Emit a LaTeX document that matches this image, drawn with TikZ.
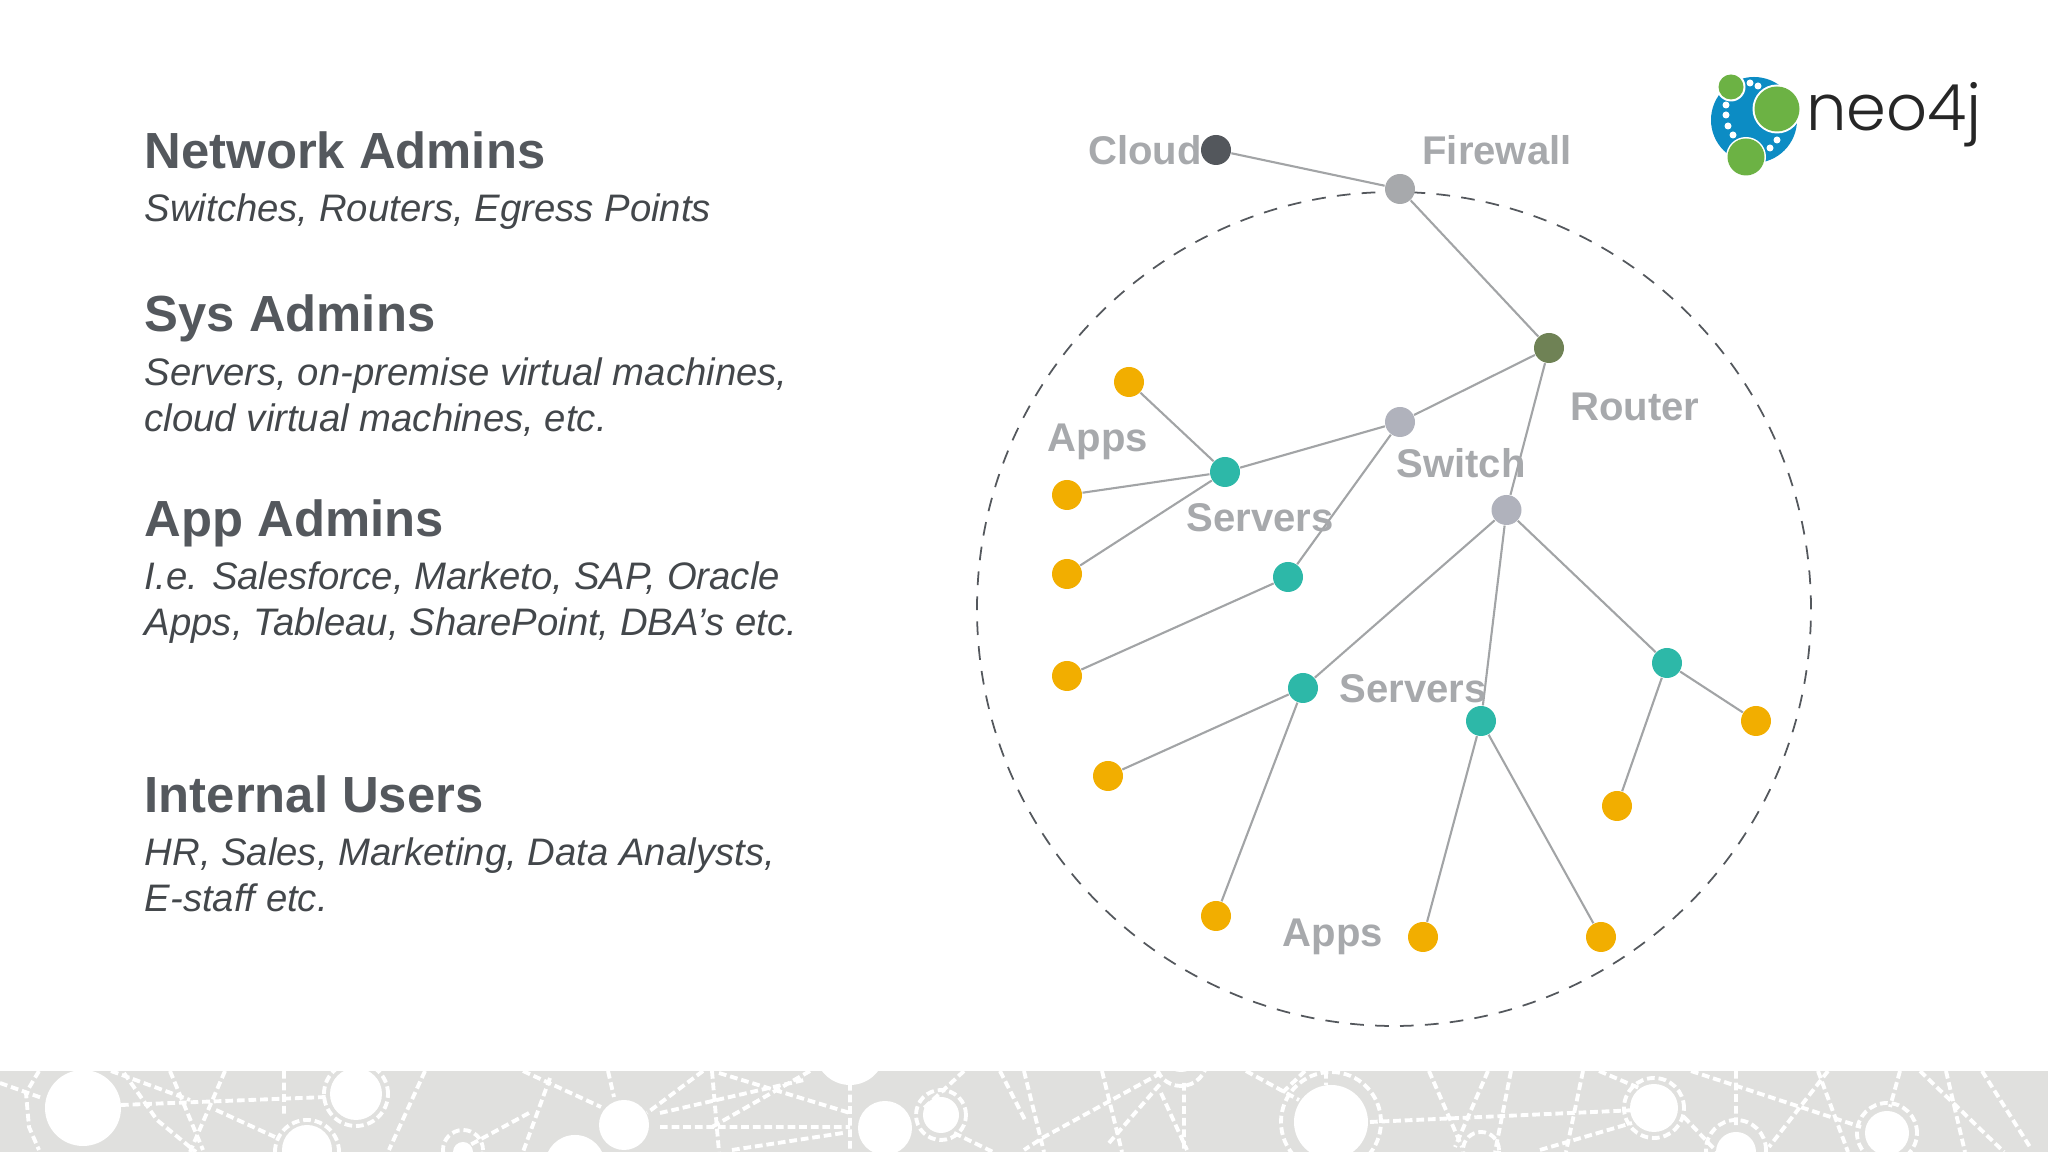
\documentclass[tikz,border=0pt]{standalone}
\usepackage{fontspec}
\setmainfont{Liberation Sans}
\newfontfamily\logofont[UprightFont=* Light]{Poppins}
\usepackage{xcolor}
\definecolor{headcol}{HTML}{54585D}
\definecolor{subcol}{HTML}{43474B}
\definecolor{labelcol}{HTML}{A7A9AC}
\definecolor{edgecol}{HTML}{A2A4A6}
\definecolor{appcol}{HTML}{F2AE00}
\definecolor{servercol}{HTML}{2DB8A8}
\definecolor{routercol}{HTML}{6F8255}
\definecolor{switchcol}{HTML}{B0B2BC}
\definecolor{firewallcol}{HTML}{A7A9AC}
\definecolor{cloudcol}{HTML}{53575C}
\definecolor{bandcol}{HTML}{E0E0DE}
\definecolor{logoblue}{HTML}{0C8CC4}
\definecolor{logogreen}{HTML}{6CB244}

\begin{document}
\begin{tikzpicture}[
    headnode/.style={anchor=west, inner sep=0pt, font=\bfseries\fontsize{14.45}{17}\selectfont, text=headcol},
    subnode/.style={anchor=west, inner sep=0pt, align=left, font=\itshape\fontsize{10.9}{13.1}\selectfont, text=subcol},
    dotnode/.style={circle, inner sep=0pt, minimum size=3mm},
    appnode/.style={dotnode, fill=appcol},
    servernode/.style={dotnode, fill=servercol},
    switchnode/.style={dotnode, fill=switchcol},
    labelnode/.style={inner sep=0pt, font=\bfseries\fontsize{11.4}{13}\selectfont, text=labelcol},
    edge/.style={draw=edgecol, line width=0.6pt},
    bandline/.style={draw=white, line width=1.1pt, dash pattern=on 2.2pt off 1.1pt},
]
\useasboundingbox (0,0) rectangle (20.48,11.52);

% === Bottom band ===
\begin{scope}
\clip (0,0) rectangle (20.48,0.81);
\fill[bandcol] (0,0) rectangle (20.48,0.81);
\draw[bandline] (0,0.69) -- (0.42,0.54)
    (0.39,0.81) -- (0.26,0.59) -- (0.29,0.25) -- (0.39,0.02)
    (1.21,0.47) -- (3.27,0.55)
    (1.11,0.81) -- (1.9,0.52)
    (1.24,0.79) -- (1.57,0.32) -- (1.96,0)
    (1.7,0.81) -- (2.03,0.02)
    (2.25,0.81) -- (1.9,0)
    (2.16,0.42) -- (2.75,0.15)
    (2.84,0.81) -- (2.84,0.35)
    (4.25,0.81) -- (3.89,0.02)
    (5.23,0.81) -- (6.01,0.45)
    (5.5,0.74) -- (5.23,0)
    (5.29,0.39) -- (4.7,0.07)
    (6.08,0.81) -- (6.14,0.55)
    (7.03,0.81) -- (6.47,0.39)
    (6.6,0.39) -- (8.04,0.72)
    (6.6,0.25) -- (8.5,0.25)
    (7.12,0.81) -- (7.19,0)
    (7.19,0.79) -- (8.5,0.39)
    (7.32,0.02) -- (8.43,0.19)
    (8.1,0.81) -- (7.12,0.25)
    (8.5,0.69) -- (8.5,0)
    (9.64,0.81) -- (9.22,0.42)
    (10,0.81) -- (10.25,0.32)
    (9.54,0.19) -- (9.93,0);
\draw[bandline] (10.24,0.81) -- (10.44,0)
    (11.02,0.81) -- (11.22,0)
    (11.61,0.79) -- (10.44,0.15) -- (10.24,0.02)
    (11.61,0.59) -- (11.87,0.02)
    (11.84,0.69) -- (11.84,0)
    (11.09,0.09) -- (11.61,0.69)
    (12.46,0.81) -- (12.99,0.52)
    (13.05,0.81) -- (12.82,0.59)
    (13.26,0.81) -- (13.26,0.67)
    (13.7,0.3) -- (16.38,0.42)
    (14.29,0.81) -- (14.62,0.05)
    (14.88,0.81) -- (14.55,0.05)
    (15.11,0.81) -- (14.95,0)
    (15.83,0.81) -- (15.66,0)
    (15.4,0.02) -- (16.32,0.29)
    (15.99,0.81) -- (16.51,0.59)
    (16.91,0.81) -- (18.61,0.25)
    (17.36,0.81) -- (17.36,0.25)
    (18.28,0.81) -- (17.69,0.05)
    (18.18,0.81) -- (18.48,0)
    (19,0.81) -- (18.9,0.45)
    (19.2,0.81) -- (20.04,0)
    (19.46,0.81) -- (19.65,0)
    (19.82,0.81) -- (20.3,0.05)
    (16.84,0.35) -- (17.17,0);
% rings
\draw[bandline] (3.56,0.58) circle (0.32);
\draw[bandline] (3.07,0) circle (0.32);
\draw[bandline] (9.41,0.37) circle (0.25);
\draw[bandline] (4.63,0.02) circle (0.2);
\draw[bandline] (11.81,0.92) circle (0.26);
\draw[bandline] (13.31,0.3) circle (0.5);
\draw[bandline] (14.81,0.02) circle (0.18);
\draw[bandline] (16.54,0.44) circle (0.3);
\draw[bandline] (17.36,0.02) circle (0.3);
\draw[bandline] (18.87,0.19) circle (0.3);
% spots
\fill[white] (0.83,0.44) circle (0.38);
\fill[white] (3.56,0.58) circle (0.26);
\fill[white] (3.07,0.02) circle (0.25);
\fill[white] (4.63,0) circle (0.1);
\fill[white] (6.24,0.27) circle (0.25);
\fill[white] (5.75,-0.13) circle (0.3);
\fill[white] (8.5,1.02) circle (0.35);
\fill[white] (8.85,0.24) circle (0.27);
\fill[white] (9.41,0.37) circle (0.18);
\fill[white] (11.81,1.0) circle (0.2);
\fill[white] (13.31,0.3) circle (0.37);
\fill[white] (16.54,0.44) circle (0.24);
\fill[white] (17.36,0) circle (0.2);
\fill[white] (18.87,0.19) circle (0.22);
\end{scope}

% === Left column ===
\node[headnode] (nethead) at (1.44, 10.02) {Network Admins};
\node[subnode] (netsub) at (1.44, 9.40) {Switches, Routers, Egress Points};
\node[headnode] (syshead) at (1.44, 8.335) {Sys Admins};
\node[subnode] (syssub) at (1.44, 7.55) {Servers, on-premise virtual machines,\\cloud virtual machines, etc.};
\node[headnode] (apphead) at (1.44, 6.285) {App Admins};
\node[subnode] (appsub) at (1.44, 5.49) {I.e. Salesforce, Marketo, SAP, Oracle\\Apps, Tableau, SharePoint, DBA’s etc.};
\node[headnode] (userhead) at (1.44, 3.58) {Internal Users};
\node[subnode] (usersub) at (1.44, 2.775) {HR, Sales, Marketing, Data Analysts,\\E-staff etc.};

% === Dashed boundary ===
\node[circle, draw=headcol, line width=0.5pt, dash pattern=on 3.9pt off 3.2pt, minimum size=8.34cm, inner sep=0pt] (boundary) at (13.94, 5.43) {};

% === Network nodes ===
\node[dotnode, fill=cloudcol] (cloud) at (12.16, 10.02) {};
\node[dotnode, fill=firewallcol] (firewall) at (14.00, 9.63) {};
\node[dotnode, fill=routercol] (router) at (15.49, 8.04) {};
\node[switchnode] (switchA) at (14.00, 7.30) {};
\node[switchnode] (switchB) at (15.065, 6.42) {};

\node[servernode] (serverA) at (12.25, 6.80) {};
\node[servernode] (serverB) at (12.88, 5.75) {};
\node[servernode] (serverC) at (13.03, 4.64) {};
\node[servernode] (serverD) at (14.81, 4.31) {};
\node[servernode] (serverE) at (16.67, 4.89) {};

\node[appnode] (appA) at (11.29, 7.70) {};
\node[appnode] (appB) at (10.67, 6.57) {};
\node[appnode] (appC) at (10.67, 5.78) {};
\node[appnode] (appD) at (10.67, 4.76) {};
\node[appnode] (appE) at (11.08, 3.76) {};
\node[appnode] (appF) at (12.16, 2.36) {};
\node[appnode] (appG) at (14.23, 2.15) {};
\node[appnode] (appH) at (16.01, 2.15) {};
\node[appnode] (appI) at (16.17, 3.46) {};
\node[appnode] (appJ) at (17.56, 4.31) {};

% === Edges ===
\draw[edge] (cloud) -- (firewall);
\draw[edge] (firewall) -- (router);
\draw[edge] (router) -- (switchA);
\draw[edge] (router) -- (switchB);
\draw[edge] (switchA) -- (serverA);
\draw[edge] (switchA) -- (serverB);
\draw[edge] (switchB) -- (serverC);
\draw[edge] (switchB) -- (serverD);
\draw[edge] (switchB) -- (serverE);
\draw[edge] (serverA) -- (appA);
\draw[edge] (serverA) -- (appB);
\draw[edge] (serverA) -- (appC);
\draw[edge] (serverB) -- (appD);
\draw[edge] (serverC) -- (appE);
\draw[edge] (serverC) -- (appF);
\draw[edge] (serverD) -- (appG);
\draw[edge] (serverD) -- (appH);
\draw[edge] (serverE) -- (appI);
\draw[edge] (serverE) -- (appJ);

% === Labels ===
\node[labelnode] (cloudlabel) at (11.45, 10.02) {Cloud};
\node[labelnode] (firewalllabel) at (14.97, 10.02) {Firewall};
\node[labelnode] (routerlabel) at (16.35, 7.45) {Router};
\node[labelnode] (switchlabel) at (14.61, 6.89) {Switch};
\node[labelnode] (appslabelA) at (10.98, 7.10) {Apps};
\node[labelnode] (serverslabelA) at (12.60, 6.34) {Servers};
\node[labelnode] (serverslabelB) at (14.13, 4.63) {Servers};
\node[labelnode] (appslabelB) at (13.33, 2.15) {Apps};

% === Logo ===
\fill[logoblue] (17.54, 10.32) circle (0.43);
\fill[white] (17.31, 10.65) circle (0.145);
\fill[logogreen] (17.31, 10.65) circle (0.125);
\fill[white] (17.77, 10.43) circle (0.245);
\fill[logogreen] (17.77, 10.43) circle (0.225);
\fill[white] (17.46, 9.95) circle (0.2);
\fill[logogreen] (17.46, 9.95) circle (0.185);
\fill[white] (17.50, 10.69) circle (0.035);
\fill[white] (17.58, 10.66) circle (0.035);
\fill[white] (17.26, 10.47) circle (0.035);
\fill[white] (17.26, 10.37) circle (0.035);
\fill[white] (17.28, 10.26) circle (0.035);
\fill[white] (17.33, 10.17) circle (0.035);
\fill[white] (17.70, 10.04) circle (0.035);
\fill[white] (17.77, 10.12) circle (0.035);
\node[inner sep=0pt, font=\logofont\fontsize{18.2}{20}\selectfont, text=black!85] (logotext) at (18.94, 10.37) {neo4j};

\end{tikzpicture}
\end{document}
